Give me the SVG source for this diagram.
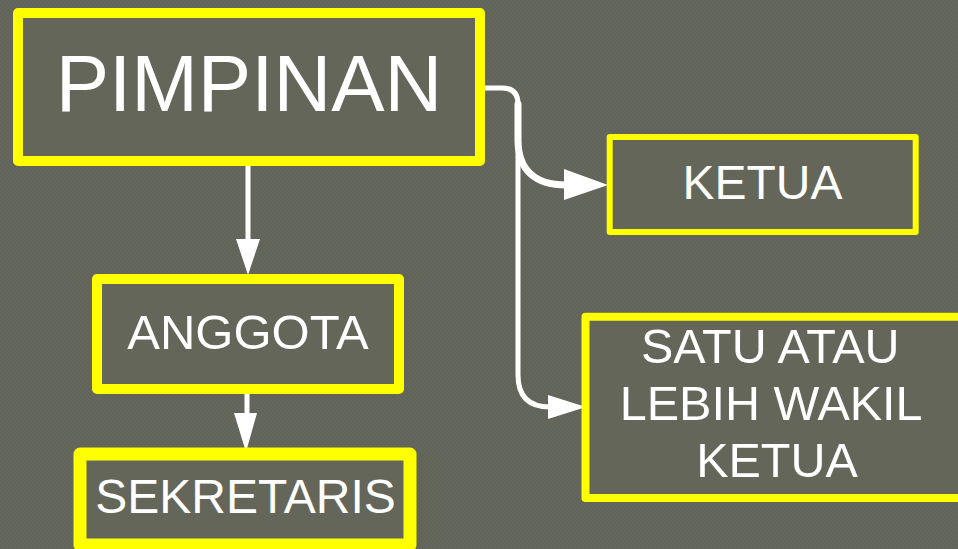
<svg xmlns="http://www.w3.org/2000/svg" width="958" height="549" viewBox="0 0 958 549">
  <defs>
    <pattern id="bg" width="4" height="4" patternUnits="userSpaceOnUse">
      <rect width="4" height="4" fill="#65675b"/>
      <rect width="2" height="2" fill="#61645a"/>
      <rect x="2" y="2" width="2" height="2" fill="#61645a"/>
    </pattern>
    <style>
      .box { fill: #64665a; stroke: #ffff00; stroke-linejoin: round; }
      .lbl { fill: #ffffff; font-family: "Liberation Sans", Arial, sans-serif; text-anchor: middle; }
      .con { fill: none; stroke: #ffffff; stroke-linecap: round; stroke-linejoin: round; }
      .head { fill: #ffffff; stroke: none; }
    </style>
  </defs>
  <rect width="958" height="549" fill="url(#bg)"/>

  <g id="connectors">
    <path class="con" d="M248,163 V240" stroke-width="5"/>
    <polygon class="head" points="236,239 260,239 248,275"/>
    <path class="con" d="M247,391 V415" stroke-width="5"/>
    <polygon class="head" points="234,413 257,413 246,452"/>
    <path class="con" d="M482,88 H502 Q518,88 518,104 V375 Q518,407 550,407" stroke-width="5"/>
    <polygon class="head" points="548,395 586,407 548,419"/>
    <path class="con" d="M518,104 V140 C518,170 535,185 566,185" stroke-width="7"/>
    <polygon class="head" points="564,169 608,185 564,200"/>
  </g>

  <g id="pimpinan">
    <rect class="box" x="18" y="13" width="462" height="148" stroke-width="10"/>
    <text class="lbl" x="249" y="111" font-size="80">PIMPINAN</text>
  </g>
  <g id="anggota">
    <rect class="box" x="97" y="279" width="302" height="110" stroke-width="10"/>
    <text class="lbl" x="248" y="349" font-size="49">ANGGOTA</text>
  </g>
  <g id="sekretaris">
    <rect class="box" x="80" y="454" width="330" height="91" stroke-width="13"/>
    <text class="lbl" x="245.5" y="513" font-size="48">SEKRETARIS</text>
  </g>
  <g id="ketua">
    <rect class="box" x="609.7" y="137" width="306" height="95" stroke-width="6"/>
    <text class="lbl" x="762.5" y="199" font-size="48">KETUA</text>
  </g>
  <g id="wakil">
    <rect class="box" x="585.5" y="316.7" width="383" height="181.3" stroke-width="8"/>
    <text class="lbl" font-size="48.5">
      <tspan x="777" y="363">SATU ATAU</tspan>
      <tspan x="777" y="420">LEBIH WAKIL</tspan>
      <tspan x="777" y="477">KETUA</tspan>
    </text>
  </g>
</svg>
